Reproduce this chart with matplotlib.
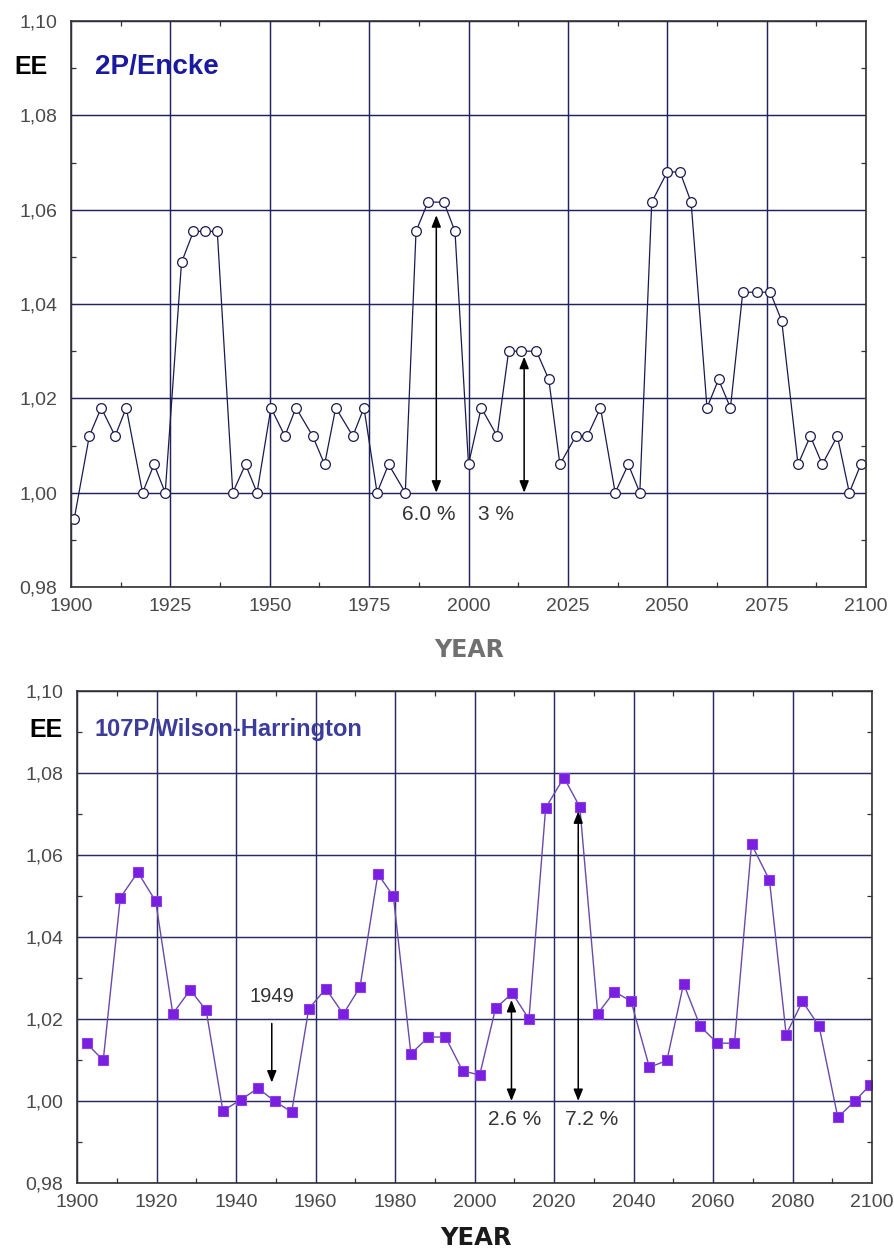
import matplotlib
matplotlib.use("Agg")
import matplotlib.pyplot as plt
from matplotlib.ticker import FixedLocator, FuncFormatter
from matplotlib.patches import ArrowStyle
import matplotlib.transforms as mtransforms

# ---- 2P/Encke: equivalent eccentricity by perihelion year ----
encke_year = [1900.8, 1904.6, 1907.6, 1911.1, 1913.9, 1918.0, 1920.9, 1923.7,
              1927.8, 1930.8, 1933.7, 1936.8, 1940.7, 1943.9, 1946.8, 1950.3,
              1953.8, 1956.6, 1960.8, 1963.8, 1966.6, 1970.9, 1973.7, 1977.0,
              1979.9, 1984.1, 1986.8, 1989.8, 1993.8, 1996.6, 2000.0, 2003.2,
              2007.2, 2010.1, 2013.2, 2017.1, 2020.2, 2023.0, 2027.0, 2029.9,
              2033.2, 2036.9, 2040.2, 2043.1, 2046.1, 2050.0, 2053.2, 2056.0,
              2060.0, 2062.9, 2065.9, 2069.0, 2072.7, 2075.9, 2078.8, 2082.9,
              2086.0, 2089.0, 2092.8, 2095.8, 2098.7]
encke_ee = [0.9944, 1.012, 1.018, 1.012, 1.018, 1.000, 1.006, 1.000,
            1.0488, 1.0554, 1.0554, 1.0554, 1.000, 1.006, 1.000, 1.018,
            1.012, 1.018, 1.012, 1.006, 1.018, 1.012, 1.018, 1.000,
            1.006, 1.000, 1.0554, 1.0616, 1.0616, 1.0554, 1.006, 1.018,
            1.012, 1.030, 1.030, 1.030, 1.024, 1.006, 1.012, 1.012,
            1.018, 1.000, 1.006, 1.000, 1.0616, 1.068, 1.068, 1.0616,
            1.018, 1.024, 1.018, 1.0425, 1.0425, 1.0425, 1.0364, 1.006,
            1.012, 1.006, 1.012, 1.000, 1.006]

# ---- 107P/Wilson-Harrington ----
wh_year = [1902.4, 1906.6, 1910.9, 1915.3, 1919.8, 1924.1, 1928.5, 1932.5,
           1936.7, 1941.2, 1945.5, 1949.7, 1954.0, 1958.3, 1962.6, 1967.0,
           1971.2, 1975.7, 1979.6, 1984.0, 1988.4, 1992.7, 1997.0, 2001.3,
           2005.3, 2009.5, 2013.7, 2017.9, 2022.5, 2026.5, 2031.0, 2035.2,
           2039.4, 2044.0, 2048.4, 2052.6, 2056.8, 2061.1, 2065.4, 2069.7,
           2074.2, 2078.4, 2082.5, 2086.7, 2091.4, 2095.7, 2099.6]
wh_ee = [1.0141, 1.0099, 1.0496, 1.0558, 1.0487, 1.0213, 1.0271, 1.0221,
         0.9976, 1.0003, 1.0031, 1.0000, 0.9973, 1.0225, 1.0274, 1.0212,
         1.0278, 1.0554, 1.0499, 1.0115, 1.0156, 1.0156, 1.0074, 1.0063,
         1.0226, 1.0263, 1.0200, 1.0715, 1.0789, 1.0717, 1.0213, 1.0267,
         1.0243, 1.0082, 1.0099, 1.0286, 1.0182, 1.0141, 1.0141, 1.0626,
         1.0539, 1.0162, 1.0243, 1.0182, 0.9960, 1.0000, 1.0040]

# amplitude markers: (year, base, percent, label, label_year)
encke_spans = [(1991.9, 1.00, 6.0, "6.0 %", 1989.9),
               (2014.0, 1.00, 3.0, "3 %", 2006.9)]
wh_spans = [(2009.3, 1.00, 2.6, "2.6 %", 2010.1),
            (2026.1, 1.00, 7.2, "7.2 %", 2029.5)]
wh_mark_year = 1949

y_ticks = [0.98, 1.00, 1.02, 1.04, 1.06, 1.08, 1.10]
y_minor = [0.99, 1.01, 1.03, 1.05, 1.07, 1.09]
encke_xticks = [1900, 1925, 1950, 1975, 2000, 2025, 2050, 2075, 2100]
wh_xticks = [1900, 1920, 1940, 1960, 1980, 2000, 2020, 2040, 2060, 2080, 2100]

W, H = 895, 1260
fig = plt.figure(figsize=(W / 100, H / 100), dpi=100)
fig.patch.set_facecolor("white")

TICK_FONT = ["Liberation Sans", "DejaVu Sans"]
comma = FuncFormatter(lambda v, p: f"{v:.2f}".replace(".", ","))


def px_axes(l, t, r, b):
    return fig.add_axes([l / W, 1 - b / H, (r - l) / W, (b - t) / H])


def style_axes(ax, xticks, grid_color, ypad):
    ax.set_xlim(1900, 2100)
    ax.set_ylim(0.98, 1.10)
    ax.xaxis.set_major_locator(FixedLocator(xticks))
    step = xticks[1] - xticks[0]
    ax.xaxis.set_minor_locator(FixedLocator([x + step / 2 for x in xticks[:-1]]))
    ax.yaxis.set_major_locator(FixedLocator(y_ticks))
    ax.yaxis.set_minor_locator(FixedLocator(y_minor))
    ax.yaxis.set_major_formatter(comma)
    ax.grid(True, which="major", color=grid_color, lw=1.05)
    ax.set_axisbelow(True)
    ax.tick_params(which="major", length=0, labelsize=14, labelcolor="#4a4a4a")
    ax.tick_params(axis="x", which="major", pad=8)
    ax.tick_params(axis="y", which="major", pad=ypad)
    ax.tick_params(which="minor", direction="in", length=3.5, width=0.9,
                   color="#333333", top=True, right=True)
    for lab in ax.get_xticklabels() + ax.get_yticklabels():
        lab.set_fontfamily(TICK_FONT)
    for s in ax.spines.values():
        s.set_color("#333333")
        s.set_linewidth(1.2)
        s.set_zorder(5)


def span_arrows(ax, spans):
    style = ArrowStyle("<|-|>", head_length=0.7, head_width=0.28)
    for x, base, pct, text, tx in spans:
        ax.annotate("", xy=(x, base + pct / 100.0), xytext=(x, base),
                    arrowprops=dict(arrowstyle=style, mutation_scale=10,
                                    color="black", lw=1.1,
                                    shrinkA=0, shrinkB=4), zorder=6)
        ax.text(tx, 0.9954, text, ha="center", va="center", fontsize=15,
                family=TICK_FONT, color="#333333", zorder=6)


# ---------- top panel: 2P/Encke ----------
ax1 = px_axes(71, 21, 866, 587)
style_axes(ax1, encke_xticks, "#22225e", 10)
ax1.plot(encke_year, encke_ee, color="#1a1a50", lw=0.9, marker="o", ms=7,
         mfc="white", mec="#1a1a50", mew=0.9, zorder=4)
span_arrows(ax1, encke_spans)
ax1.text(1906.1, 1.0903, "2P/Encke", ha="left", va="center", fontsize=20,
         fontweight="bold", family=["Liberation Sans", "DejaVu Sans"],
         color="#1a1aa0", zorder=6)
tr1 = mtransforms.blended_transform_factory(fig.transFigure, ax1.transData)
ax1.text(31 / W, 1.0903, "EE", transform=tr1, ha="center", va="center",
         fontsize=18, fontweight="bold", family=["Liberation Sans", "DejaVu Sans"],
         color="black", clip_on=False)
fig.text(469 / W, 1 - 650 / H, "YEAR", ha="center", va="center", fontsize=17,
         fontweight="bold", color="#707070")

# ---------- bottom panel: 107P/Wilson-Harrington ----------
ax2 = px_axes(77, 691, 872, 1183)
style_axes(ax2, wh_xticks, "#2a2a62", 10)
ax2.plot(wh_year, wh_ee, color="#6a4aa8", lw=1.0, marker="s", ms=6.5,
         mfc="#7a1ee0", mec="#8a40e8", mew=0.8, zorder=4)
span_arrows(ax2, wh_spans)
ax2.annotate("", xy=(wh_mark_year, 1.0045), xytext=(wh_mark_year, 1.0189),
             arrowprops=dict(arrowstyle=ArrowStyle("-|>", head_length=0.7,
                                                   head_width=0.28),
                             mutation_scale=10, color="black", lw=1.1,
                             shrinkA=0, shrinkB=0), zorder=6)
ax2.text(wh_mark_year, 1.0254, str(wh_mark_year), ha="center", va="center",
         fontsize=14.5, family=TICK_FONT, color="#333333", zorder=6)
ax2.text(1904.5, 1.0905, "107P/Wilson-Harrington", ha="left", va="center",
         fontsize=17, fontweight="bold", family=["Liberation Sans", "DejaVu Sans"],
         color="#3c3c9c", zorder=6)
tr2 = mtransforms.blended_transform_factory(fig.transFigure, ax2.transData)
ax2.text(46 / W, 1.0905, "EE", transform=tr2, ha="center", va="center",
         fontsize=18, fontweight="bold", family=["Liberation Sans", "DejaVu Sans"],
         color="black", clip_on=False)
fig.text(476 / W, 1 - 1238 / H, "YEAR", ha="center", va="center", fontsize=17.5,
         fontweight="bold", color="#1a1a1a")

fig.savefig("out.png", dpi=100, facecolor="white")
